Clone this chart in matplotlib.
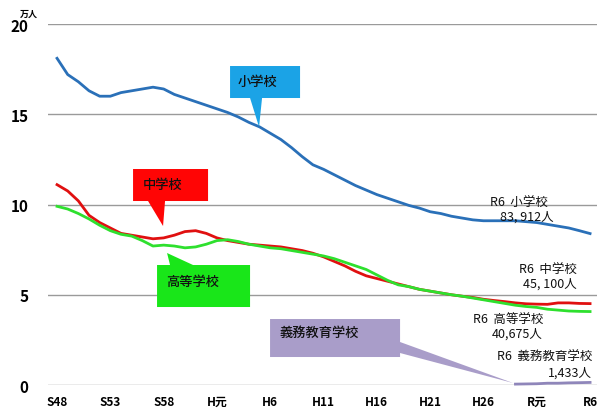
import matplotlib
matplotlib.use("Agg")
import matplotlib.pyplot as plt
from matplotlib.patches import Polygon
import numpy as np

plt.rcParams["font.family"] = ["Noto Sans CJK JP", "DejaVu Sans"]

# x axis categories (one per year, labels every 5)
tick_labels = ["S48", "S53", "S58", "H元", "H6", "H11", "H16", "H21", "H26", "R元", "R6"]
tick_pos = np.arange(0, 51, 5)

# values in 万人
elementary = [18.1, 17.2, 16.8, 16.3, 16.0, 16.0, 16.2, 16.3, 16.4, 16.5,
              16.4, 16.1, 15.9, 15.7, 15.5, 15.3, 15.1, 14.85, 14.55, 14.3,
              13.95, 13.6, 13.15, 12.65, 12.2, 11.95, 11.65, 11.35, 11.05, 10.8,
              10.55, 10.35, 10.15, 9.95, 9.8, 9.6, 9.5, 9.35, 9.25, 9.15,
              9.1, 9.1, 9.1, 9.1, 9.05, 9.0, 8.9, 8.8, 8.7, 8.55, 8.39]
junior_high = [11.1, 10.75, 10.2, 9.4, 9.0, 8.7, 8.4, 8.3, 8.2, 8.1,
               8.15, 8.3, 8.5, 8.55, 8.4, 8.15, 8.0, 7.9, 7.8, 7.75,
               7.7, 7.65, 7.55, 7.45, 7.3, 7.1, 6.85, 6.6, 6.3, 6.05,
               5.9, 5.75, 5.6, 5.45, 5.3, 5.2, 5.1, 5.0, 4.92, 4.85,
               4.75, 4.68, 4.62, 4.55, 4.5, 4.48, 4.47, 4.55, 4.55, 4.52, 4.51]
high = [9.9, 9.75, 9.5, 9.2, 8.85, 8.55, 8.35, 8.25, 8.0, 7.7,
        7.75, 7.7, 7.6, 7.65, 7.8, 8.0, 8.05, 7.95, 7.8, 7.7,
        7.6, 7.55, 7.45, 7.35, 7.25, 7.15, 7.0, 6.8, 6.6, 6.4,
        6.1, 5.8, 5.55, 5.45, 5.3, 5.2, 5.1, 5.0, 4.92, 4.82,
        4.72, 4.62, 4.52, 4.42, 4.35, 4.3, 4.2, 4.15, 4.1, 4.08, 4.07]
compulsory_start = 43
compulsory = [0.05, 0.06, 0.07, 0.1, 0.1, 0.12, 0.13, 0.143]

fig = plt.figure(figsize=(6.02, 4.10), dpi=100)
ax = fig.add_axes([0.0797, 0.0585, 0.912, 0.8805])

x = np.arange(len(elementary))
ax.plot(x, elementary, color="#2A70B8", lw=2.0, clip_on=False, zorder=3)
ax.plot(x, junior_high, color="#E01010", lw=2.0, clip_on=False, zorder=3)
ax.plot(x, high, color="#2EE02E", lw=2.0, clip_on=False, zorder=4)
xc = np.arange(compulsory_start, compulsory_start + len(compulsory))
ax.plot(xc, compulsory, color="#8F86BA", lw=2.0, clip_on=False, zorder=3)

ax.set_xlim(-0.85, 50.65)
ax.set_ylim(0, 20)
ax.set_yticks([0, 5, 10, 15, 20])
ax.set_yticklabels(["0", "5", "10", "15", "20"], fontsize=11, fontweight="bold")
ax.set_xticks(tick_pos)
ax.set_xticklabels(tick_labels, fontsize=8.5, fontweight="bold")
ax.tick_params(axis="y", length=0, pad=14)
ax.tick_params(axis="x", length=0, pad=7)
ax.grid(axis="y", color="#9A9A9A", lw=1.0)
ax.set_axisbelow(True)
for s in ax.spines.values():
    s.set_visible(False)

fig.text(0.033, 0.965, "万人", fontsize=6.5, fontweight="bold", ha="left", va="center")


# pixel helpers for callout shapes
def px(xp, yp):
    return ((xp - 57) / 10.66, (386 - yp) / 18.05)


def callout(pts, color, text, tx, ty, ha="center"):
    poly = Polygon([px(*p) for p in pts], closed=True, facecolor=color,
                   edgecolor="none", clip_on=False, zorder=5)
    ax.add_patch(poly)
    ax.text(*px(tx, ty), text, fontsize=9.5, fontweight="medium", ha=ha,
            va="center", color="#111111", zorder=6)


callout([(230, 67), (300, 67), (300, 99), (262, 99), (259, 128), (250, 99), (230, 99)],
        "#1BA3E6", "小学校", 257, 82)
callout([(133, 170), (208, 170), (208, 202), (165, 202), (163, 227), (148, 202), (133, 202)],
        "#FF0505", "中学校", 163, 185)
callout([(157, 266), (170, 266), (167, 254), (193, 266), (250, 266), (250, 308), (157, 308)],
        "#19E619", "高等学校", 193, 282)
callout([(270, 320), (400, 320), (400, 343), (513, 384), (400, 354), (400, 358), (270, 358)],
        "#A99DC9", "義務教育学校", 279, 333, ha="left")

# R6 labels
notes = [
    ("R6  小学校", 548, 203), ("83, 912人", 554, 217),
    ("R6  中学校", 577, 270), ("45, 100人", 577, 284),
    ("R6  高等学校", 543, 320), ("40,675人", 543, 334),
    ("R6  義務教育学校", 592, 357), ("1,433人", 592, 373),
]
for t, tx, ty in notes:
    ax.text(*px(tx, ty), t, fontsize=9, ha="right", va="center", color="#111111", zorder=6)

fig.savefig("out.png", dpi=100)
